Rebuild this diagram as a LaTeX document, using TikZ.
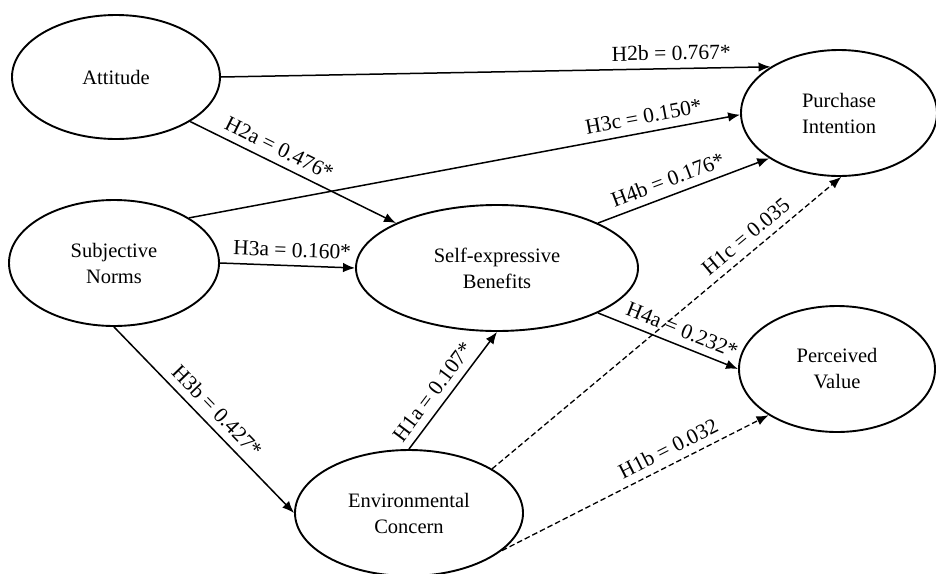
\documentclass[tikz,border=0pt]{standalone}
\usepackage{fontspec}
\setmainfont{Liberation Serif}
\usetikzlibrary{shapes.geometric,arrows.meta}
\tikzset{
  construct/.style={draw, ellipse, line width=1.9pt, inner sep=0pt, align=center,
    font=\fontsize{20.5}{26}\selectfont},
  path/.style={line width=1.5pt, -{Latex[length=12pt,width=9.5pt]}},
  nspath/.style={line width=1.3pt, dash pattern=on 5.5pt off 3pt, -{Latex[length=12pt,width=9.5pt]}},
  lbl/.style={sloped, above=5.5pt, inner sep=2pt, font=\fontsize{21.5}{24}\selectfont}
}
\begin{document}
\begin{tikzpicture}[x=1pt,y=-1pt]
\useasboundingbox (0,0) rectangle (936,573);
\node[construct, minimum width=208pt, minimum height=124pt] (att) at (116,77) {Attitude};
\node[construct, minimum width=210pt, minimum height=126pt] (sn) at (114,263) {Subjective\\Norms};
\node[construct, minimum width=282pt, minimum height=126pt] (seb) at (497,268) {Self-expressive\\Benefits};
\node[construct, minimum width=196pt, minimum height=126pt] (pi) at (839,113) {Purchase\\Intention};
\node[construct, minimum width=196pt, minimum height=126pt] (pv) at (837,369) {Perceived\\Value};
\node[construct, minimum width=228pt, minimum height=126pt] (ec) at (409,513) {Environmental\\Concern};

\draw[path] (att.east) -- (pi.146) node[lbl, pos=0.82] (l2b) {H2b = 0.767*};
\draw[path] (att.-31) -- (seb.156) node[lbl, pos=0.40] (l2a) {H2a = 0.476*};
\draw[path] (sn.31) -- (pi.181) node[lbl, pos=0.83] (l3c) {H3c = 0.150*};
\draw[path] (sn.east) -- (seb.west) node[lbl, pos=0.53] (l3a) {H3a = 0.160*};
\draw[path] (sn.south) -- (ec.west) node[lbl, pos=0.51] (l3b) {H3b = 0.427*};
\draw[path] (seb.24.5) -- (pi.213) node[lbl, pos=0.44] (l4b) {H4b = 0.176*};
\draw[path] (seb.-24) -- (pv.west) node[lbl, pos=0.56] (l4a) {H4a = 0.232*};
\draw[path] (ec.north) -- (seb.south) node[lbl, pos=0.41] (l1a) {H1a = 0.107*};
\draw[nspath] (ec.28.5) -- (pi.-88) node[lbl, pos=0.755] (l1c) {H1c = 0.035};
\draw[nspath] (ec.-22.5) -- (pv.214) node[lbl, pos=0.65] (l1b) {H1b = 0.032};
\end{tikzpicture}
\end{document}
